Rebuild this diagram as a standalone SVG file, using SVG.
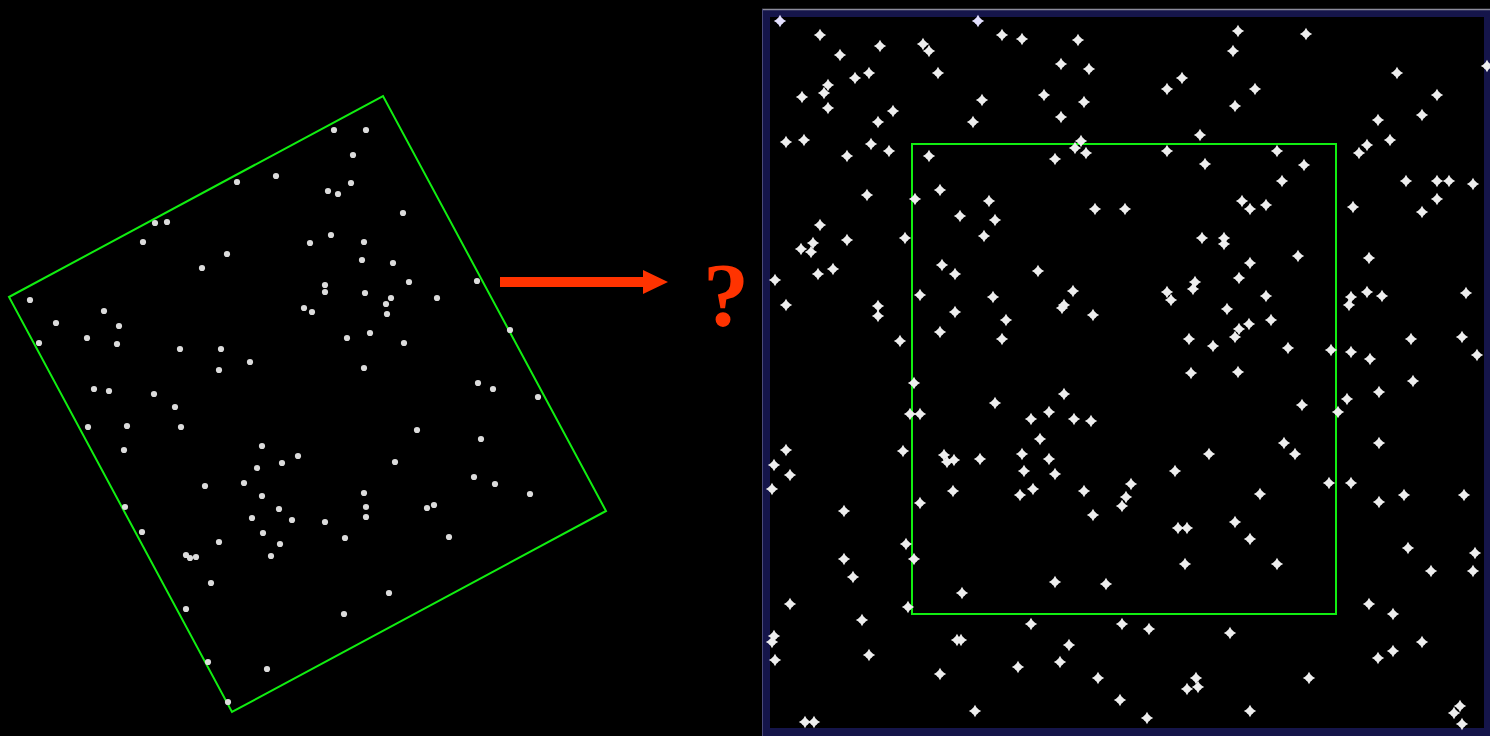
<svg xmlns="http://www.w3.org/2000/svg" xmlns:xlink="http://www.w3.org/1999/xlink" width="1490" height="736" viewBox="0 0 1490 736">
<style>
.frame{fill:none;stroke:#11ee11;stroke-width:2}
.ls{fill:#dcdcdc}
.rs{fill:#eeeeee}
</style>
<defs>
<g id="d"><circle r="3.1"/></g>
<g id="s"><path d="M0,-6.2 L2.2,-2.2 L6.2,0 L2.2,2.2 L0,6.2 L-2.2,2.2 L-6.2,0 L-2.2,-2.2Z"/><circle r="3.6"/></g>
</defs>
<rect width="1490" height="736" fill="#000"/>
<g id="left-field">
<polygon class="frame" points="9,297 383,96 606,511 232,712"/>
<g class="ls">
<use href="#d" x="334" y="130"/><use href="#d" x="366" y="130"/><use href="#d" x="353" y="155"/><use href="#d" x="276" y="176"/><use href="#d" x="237" y="182"/><use href="#d" x="328" y="191"/><use href="#d" x="338" y="194"/><use href="#d" x="351" y="183"/><use href="#d" x="403" y="213"/><use href="#d" x="155" y="223"/><use href="#d" x="167" y="222"/><use href="#d" x="143" y="242"/><use href="#d" x="227" y="254"/><use href="#d" x="202" y="268"/><use href="#d" x="310" y="243"/><use href="#d" x="331" y="235"/><use href="#d" x="364" y="242"/><use href="#d" x="362" y="260"/><use href="#d" x="393" y="263"/><use href="#d" x="409" y="282"/><use href="#d" x="325" y="285"/><use href="#d" x="325" y="292"/><use href="#d" x="365" y="293"/><use href="#d" x="391" y="298"/><use href="#d" x="386" y="304"/><use href="#d" x="387" y="314"/><use href="#d" x="304" y="308"/><use href="#d" x="312" y="312"/><use href="#d" x="30" y="300"/><use href="#d" x="56" y="323"/><use href="#d" x="104" y="311"/><use href="#d" x="119" y="326"/><use href="#d" x="87" y="338"/><use href="#d" x="39" y="343"/><use href="#d" x="117" y="344"/><use href="#d" x="180" y="349"/><use href="#d" x="221" y="349"/><use href="#d" x="347" y="338"/><use href="#d" x="370" y="333"/><use href="#d" x="404" y="343"/><use href="#d" x="437" y="298"/><use href="#d" x="477" y="281"/><use href="#d" x="510" y="330"/>
<use href="#d" x="219" y="370"/><use href="#d" x="250" y="362"/><use href="#d" x="364" y="368"/><use href="#d" x="478" y="383"/><use href="#d" x="493" y="389"/><use href="#d" x="538" y="397"/><use href="#d" x="94" y="389"/><use href="#d" x="109" y="391"/><use href="#d" x="154" y="394"/><use href="#d" x="175" y="407"/><use href="#d" x="88" y="427"/><use href="#d" x="127" y="426"/><use href="#d" x="181" y="427"/><use href="#d" x="124" y="450"/><use href="#d" x="417" y="430"/><use href="#d" x="481" y="439"/><use href="#d" x="262" y="446"/><use href="#d" x="282" y="463"/><use href="#d" x="298" y="456"/><use href="#d" x="257" y="468"/><use href="#d" x="205" y="486"/><use href="#d" x="244" y="483"/><use href="#d" x="395" y="462"/><use href="#d" x="474" y="477"/><use href="#d" x="495" y="484"/><use href="#d" x="530" y="494"/><use href="#d" x="262" y="496"/><use href="#d" x="279" y="509"/><use href="#d" x="252" y="518"/><use href="#d" x="292" y="520"/><use href="#d" x="325" y="522"/><use href="#d" x="364" y="493"/><use href="#d" x="366" y="507"/><use href="#d" x="366" y="517"/><use href="#d" x="427" y="508"/><use href="#d" x="434" y="505"/><use href="#d" x="125" y="507"/><use href="#d" x="142" y="532"/><use href="#d" x="263" y="533"/><use href="#d" x="280" y="544"/><use href="#d" x="219" y="542"/><use href="#d" x="345" y="538"/><use href="#d" x="449" y="537"/><use href="#d" x="190" y="558"/><use href="#d" x="186" y="555"/><use href="#d" x="196" y="557"/><use href="#d" x="271" y="556"/><use href="#d" x="211" y="583"/><use href="#d" x="186" y="609"/><use href="#d" x="389" y="593"/><use href="#d" x="344" y="614"/><use href="#d" x="208" y="662"/><use href="#d" x="267" y="669"/><use href="#d" x="228" y="702"/>
</g>
</g>
<g id="connectors">
<path d="M500,277 H643 V270 L668,282 L643,294 V287 H500 Z" fill="#ff3300"/>
</g>
<g id="question">
<text x="726" y="326" font-family="Liberation Serif, serif" font-weight="bold" font-size="92" fill="#ff3300" text-anchor="middle">?</text>
</g>
<g id="right-field">
<rect x="766" y="13" width="722" height="719" fill="#000" stroke="#15154a" stroke-width="8"/>
<line x1="762" y1="9.5" x2="1490" y2="9.5" stroke="#8a8a9a" stroke-width="1.5"/>
<line x1="762.5" y1="9" x2="762.5" y2="736" stroke="#4a4a7a" stroke-width="1"/>
<rect class="frame" x="912" y="144" width="424" height="470"/>
<g class="rs">
<use href="#s" x="780" y="21" fill="#e4e0ff"/><use href="#s" x="978" y="21" fill="#e4e0ff"/><use href="#s" x="820" y="35"/><use href="#s" x="880" y="46"/><use href="#s" x="923" y="44"/><use href="#s" x="929" y="51"/><use href="#s" x="1002" y="35"/><use href="#s" x="1022" y="39"/><use href="#s" x="1078" y="40"/><use href="#s" x="840" y="55"/><use href="#s" x="855" y="78"/><use href="#s" x="869" y="73"/><use href="#s" x="938" y="73"/><use href="#s" x="1061" y="64"/><use href="#s" x="1089" y="69"/><use href="#s" x="828" y="85"/><use href="#s" x="824" y="93"/><use href="#s" x="802" y="97"/><use href="#s" x="828" y="108"/><use href="#s" x="893" y="111"/><use href="#s" x="982" y="100"/><use href="#s" x="1044" y="95"/><use href="#s" x="1084" y="102"/><use href="#s" x="878" y="122"/><use href="#s" x="973" y="122"/><use href="#s" x="1061" y="117"/><use href="#s" x="786" y="142"/><use href="#s" x="804" y="140"/><use href="#s" x="871" y="144"/><use href="#s" x="889" y="151"/><use href="#s" x="847" y="156"/><use href="#s" x="929" y="156"/><use href="#s" x="1055" y="159"/><use href="#s" x="1081" y="141"/><use href="#s" x="1075" y="148"/><use href="#s" x="1086" y="153"/><use href="#s" x="940" y="190"/><use href="#s" x="915" y="199"/><use href="#s" x="867" y="195"/><use href="#s" x="989" y="201"/><use href="#s" x="960" y="216"/><use href="#s" x="995" y="220"/><use href="#s" x="984" y="236"/><use href="#s" x="1095" y="209"/><use href="#s" x="1125" y="209"/><use href="#s" x="820" y="225"/><use href="#s" x="847" y="240"/><use href="#s" x="813" y="243"/><use href="#s" x="801" y="249"/><use href="#s" x="811" y="252"/><use href="#s" x="905" y="238"/><use href="#s" x="942" y="265"/><use href="#s" x="955" y="274"/><use href="#s" x="1038" y="271"/><use href="#s" x="833" y="269"/><use href="#s" x="818" y="274"/><use href="#s" x="775" y="280"/><use href="#s" x="920" y="295"/><use href="#s" x="993" y="297"/><use href="#s" x="1073" y="291"/><use href="#s" x="1062" y="308"/><use href="#s" x="1064" y="305"/><use href="#s" x="786" y="305"/><use href="#s" x="878" y="306"/><use href="#s" x="878" y="316"/><use href="#s" x="955" y="312"/><use href="#s" x="1006" y="320"/><use href="#s" x="1093" y="315"/><use href="#s" x="940" y="332"/><use href="#s" x="1002" y="339"/><use href="#s" x="900" y="341"/>
<use href="#s" x="1238" y="31"/><use href="#s" x="1306" y="34"/><use href="#s" x="1233" y="51"/><use href="#s" x="1487" y="66"/><use href="#s" x="1182" y="78"/><use href="#s" x="1167" y="89"/><use href="#s" x="1255" y="89"/><use href="#s" x="1397" y="73"/><use href="#s" x="1437" y="95"/><use href="#s" x="1235" y="106"/><use href="#s" x="1422" y="115"/><use href="#s" x="1378" y="120"/><use href="#s" x="1200" y="135"/><use href="#s" x="1390" y="140"/><use href="#s" x="1367" y="145"/><use href="#s" x="1359" y="153"/><use href="#s" x="1167" y="151"/><use href="#s" x="1277" y="151"/><use href="#s" x="1205" y="164"/><use href="#s" x="1304" y="165"/><use href="#s" x="1282" y="181"/><use href="#s" x="1406" y="181"/><use href="#s" x="1437" y="181"/><use href="#s" x="1449" y="181"/><use href="#s" x="1473" y="184"/><use href="#s" x="1437" y="199"/><use href="#s" x="1422" y="212"/><use href="#s" x="1353" y="207"/><use href="#s" x="1242" y="201"/><use href="#s" x="1250" y="209"/><use href="#s" x="1266" y="205"/><use href="#s" x="1202" y="238"/><use href="#s" x="1224" y="238"/><use href="#s" x="1224" y="244"/><use href="#s" x="1298" y="256"/><use href="#s" x="1369" y="258"/><use href="#s" x="1250" y="263"/><use href="#s" x="1239" y="278"/><use href="#s" x="1195" y="282"/><use href="#s" x="1193" y="289"/><use href="#s" x="1167" y="292"/><use href="#s" x="1171" y="300"/><use href="#s" x="1266" y="296"/><use href="#s" x="1351" y="297"/><use href="#s" x="1349" y="305"/><use href="#s" x="1367" y="292"/><use href="#s" x="1382" y="296"/><use href="#s" x="1466" y="293"/><use href="#s" x="1227" y="309"/><use href="#s" x="1271" y="320"/><use href="#s" x="1249" y="324"/><use href="#s" x="1239" y="329"/><use href="#s" x="1235" y="337"/><use href="#s" x="1189" y="339"/><use href="#s" x="1213" y="346"/><use href="#s" x="1288" y="348"/><use href="#s" x="1331" y="350"/><use href="#s" x="1351" y="352"/><use href="#s" x="1370" y="359"/><use href="#s" x="1411" y="339"/><use href="#s" x="1462" y="337"/><use href="#s" x="1477" y="355"/>
<use href="#s" x="914" y="383"/><use href="#s" x="995" y="403"/><use href="#s" x="1064" y="394"/><use href="#s" x="910" y="414"/><use href="#s" x="920" y="414"/><use href="#s" x="1031" y="419"/><use href="#s" x="1049" y="412"/><use href="#s" x="1074" y="419"/><use href="#s" x="1091" y="421"/><use href="#s" x="1040" y="439"/><use href="#s" x="786" y="450"/><use href="#s" x="774" y="465"/><use href="#s" x="790" y="475"/><use href="#s" x="772" y="489"/><use href="#s" x="903" y="451"/><use href="#s" x="944" y="455"/><use href="#s" x="947" y="462"/><use href="#s" x="954" y="460"/><use href="#s" x="980" y="459"/><use href="#s" x="1022" y="454"/><use href="#s" x="1049" y="459"/><use href="#s" x="1024" y="471"/><use href="#s" x="1055" y="474"/><use href="#s" x="953" y="491"/><use href="#s" x="1020" y="495"/><use href="#s" x="1033" y="489"/><use href="#s" x="1084" y="491"/><use href="#s" x="1126" y="497"/><use href="#s" x="1122" y="506"/><use href="#s" x="920" y="503"/><use href="#s" x="1093" y="515"/><use href="#s" x="844" y="511"/><use href="#s" x="906" y="544"/><use href="#s" x="914" y="559"/><use href="#s" x="844" y="559"/><use href="#s" x="853" y="577"/><use href="#s" x="962" y="593"/><use href="#s" x="1055" y="582"/><use href="#s" x="1106" y="584"/><use href="#s" x="790" y="604"/><use href="#s" x="908" y="607"/><use href="#s" x="862" y="620"/><use href="#s" x="1031" y="624"/><use href="#s" x="1122" y="624"/><use href="#s" x="774" y="636"/><use href="#s" x="772" y="642"/><use href="#s" x="957" y="640"/><use href="#s" x="961" y="640"/><use href="#s" x="1069" y="645"/><use href="#s" x="869" y="655"/><use href="#s" x="775" y="660"/><use href="#s" x="1060" y="662"/><use href="#s" x="1018" y="667"/><use href="#s" x="940" y="674"/><use href="#s" x="1098" y="678"/><use href="#s" x="1120" y="700"/><use href="#s" x="975" y="711"/><use href="#s" x="805" y="722"/><use href="#s" x="814" y="722"/>
<use href="#s" x="1191" y="373"/><use href="#s" x="1238" y="372"/><use href="#s" x="1413" y="381"/><use href="#s" x="1379" y="392"/><use href="#s" x="1347" y="399"/><use href="#s" x="1302" y="405"/><use href="#s" x="1338" y="412"/><use href="#s" x="1379" y="443"/><use href="#s" x="1284" y="443"/><use href="#s" x="1295" y="454"/><use href="#s" x="1209" y="454"/><use href="#s" x="1175" y="471"/><use href="#s" x="1131" y="484"/><use href="#s" x="1329" y="483"/><use href="#s" x="1351" y="483"/><use href="#s" x="1260" y="494"/><use href="#s" x="1379" y="502"/><use href="#s" x="1404" y="495"/><use href="#s" x="1464" y="495"/><use href="#s" x="1178" y="528"/><use href="#s" x="1187" y="528"/><use href="#s" x="1235" y="522"/><use href="#s" x="1250" y="539"/><use href="#s" x="1185" y="564"/><use href="#s" x="1277" y="564"/><use href="#s" x="1408" y="548"/><use href="#s" x="1475" y="553"/><use href="#s" x="1431" y="571"/><use href="#s" x="1473" y="571"/><use href="#s" x="1369" y="604"/><use href="#s" x="1393" y="614"/><use href="#s" x="1149" y="629"/><use href="#s" x="1230" y="633"/><use href="#s" x="1422" y="642"/><use href="#s" x="1393" y="651"/><use href="#s" x="1378" y="658"/><use href="#s" x="1196" y="678"/><use href="#s" x="1187" y="689"/><use href="#s" x="1198" y="687"/><use href="#s" x="1309" y="678"/><use href="#s" x="1250" y="711"/><use href="#s" x="1147" y="718"/><use href="#s" x="1460" y="706"/><use href="#s" x="1454" y="713"/><use href="#s" x="1462" y="724"/>
</g>
</g>
</svg>
